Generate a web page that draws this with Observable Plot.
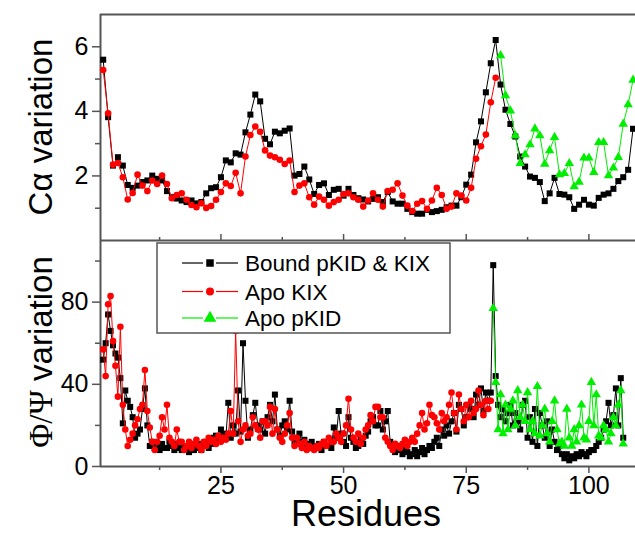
<!DOCTYPE html>
<html>
<head>
<meta charset="utf-8">
<script src="https://cdn.jsdelivr.net/npm/d3@7"></script>
<script src="https://cdn.jsdelivr.net/npm/@observablehq/plot@0.6"></script>
<style>
html,body{margin:0;padding:0;background:#fff;overflow:hidden;}
#wrap{position:relative;width:635px;height:534px;font-family:"Liberation Sans",Arial,sans-serif;}
#wrap > svg{display:block;position:absolute;left:0;}
</style>
</head>
<body>
<div id="wrap"></div>
<script>
// ---------- DATA ----------
const seriesNames = ["Bound pKID & KIX", "Apo KIX", "Apo pKID"];

// Top panel: C-alpha variation, one value per residue
const topBoundStart = 1;
const topBound = [5.6,3.82,2.32,2.58,2.32,1.72,1.63,1.70,1.81,1.86,
  2.01,1.91,1.86,1.53,1.34,1.30,1.24,1.19,1.24,1.15,
  1.19,1.46,1.62,1.65,1.96,2.48,2.42,2.70,2.66,3.35,
  3.90,4.52,4.31,3.15,2.98,3.37,3.32,3.40,3.47,2.01,
  2.06,2.29,1.89,1.44,1.72,1.77,1.41,1.57,1.60,1.39,
  1.60,1.41,1.31,1.27,1.21,1.29,1.34,1.19,1.50,1.21,
  1.14,1.14,0.98,0.88,0.83,0.83,0.95,0.88,0.91,0.95,
  1.03,1.08,1.08,1.34,1.73,2.04,3.04,3.69,4.59,5.49,
  6.21,4.83,4.05,3.61,3.22,2.60,2.29,1.98,1.94,1.81,
  1.22,1.46,1.94,1.44,1.42,1.34,0.98,1.11,1.26,1.11,
  1.08,1.32,1.42,1.46,1.60,1.84,1.96,2.19,3.46];
const topApoKIXStart = 1;
const topApoKIX = [5.28,3.94,2.35,2.40,1.96,1.27,1.47,2.04,1.70,1.53,
  1.86,1.75,2.01,1.75,1.31,1.41,1.46,1.26,1.10,1.03,
  1.15,1.01,1.07,1.26,1.50,1.77,1.69,2.10,1.46,2.60,
  3.27,3.53,3.37,2.79,2.63,2.58,2.50,2.37,2.48,1.50,
  1.70,1.77,1.34,1.11,1.36,1.26,1.08,1.19,1.26,1.44,
  1.46,1.34,1.26,1.05,1.24,1.46,1.26,1.05,1.53,1.57,
  1.77,1.39,1.08,0.91,1.14,1.22,0.98,1.24,1.63,1.41,
  0.98,1.05,1.46,1.39,1.24,1.63,2.53,2.92,3.28,4.28,
  5.04];
const topApoPKIDStart = 82;
const topApoPKID = [5.73,4.49,4.02,3.25,2.39,2.66,2.97,3.46,3.25,2.37,
  2.79,3.20,2.04,2.08,2.39,1.67,1.81,2.56,2.56,2.11,
  3.04,3.04,2.01,2.25,2.58,3.61,4.21,4.97];

// Bottom panel: Phi/Psi variation, two values (Phi, Psi) per residue
const botStep = 0.5;
const botBoundStart = 1;
const botBound = [52,60, 74,66, 59,55, 53,43, 21,37, 32,29, 24,14, 16,18, 28,38, 20,10, 12,9,
  10,8, 11,9, 9,12, 10,8, 11,9, 8,10, 9,7, 10,8, 9,11, 8,10, 12,9, 11,14, 15,13, 18,16,
  14,31, 14,20, 16,37, 17,60, 32,14, 18,25, 31,20, 18,22, 16,24, 30,22, 35,18, 15,20, 22,18, 32,17,
  12,14, 16,12, 13,11, 10,12, 9,10, 11,8, 12,10, 10,9, 19,14, 27,16, 12,10, 24,14, 12,9, 10,13, 11,15, 17,22, 24,20, 20,27, 18,22, 27,12,
  10,7, 8,10, 6,8, 7,5, 6,8, 5,7, 9,6, 8,10, 9,12, 14,10, 18,15, 20,16, 22,26, 17,30, 28,20, 24,30, 28,24, 35,30, 38,27, 36,32,
  36,98, 44,30, 24,28, 22,26, 30,20, 26,22, 18,30, 32,14, 24,12, 28,10, 26,20, 14,22, 10,18, 12,8, 10,6,
  4,6, 3,5, 4,6, 5,7, 6,5, 7,8, 8,10, 12,14, 18,22, 31,20, 25,38, 20,43,
  14];
const botApoKIXStart = 1;
const botApoKIX = [57,44, 79,83, 61,49, 34,68, 30,18, 10,13, 16,20, 23,28, 30,47, 27,19,
  12,8, 12,15, 24,18, 30,14, 12,10, 18,12, 12,8, 10,12, 9,11, 13,10,
  8,12, 10,14, 12,13, 11,15, 12,14, 13,16, 27,16, 66,22, 12,18, 20,15,
  16,24, 20,18, 14,22, 22,20, 29,16, 28,18, 14,12, 16,20, 26,14, 10,14,
  11,9, 12,8, 10,9, 8,10, 9,11, 12,10, 14,12, 12,16, 14,12, 16,20,
  33,18, 14,12, 16,11, 14,18, 20,25, 22,29, 29,24, 24,14, 12,10, 8,11,
  10,9, 11,13, 10,12, 14,12, 16,20, 26,18, 21,30, 25,24, 21,18, 26,22,
  24,30, 36,26, 18,35, 28,22, 30,24, 32,26, 28,37, 30,25, 32,28, 32];
const botApoPKIDStart = 80.5;
const botApoPKID = [77,41, 18,35, 16,30, 18,28, 32,20, 37,24, 30,22, 36,18, 22,16, 39,15,
  20,28, 16,12, 22,32, 18,11, 12,10, 28,14, 10,18, 12,20, 30,14, 13,22,
  41,20, 35,15, 14,20, 18,12, 16,24, 20,30, 37,11];

// Axes
const xDomain = [0.45, 109.5];
const xMajor = [25, 50, 75, 100];
const xMinor = [12.5, 37.5, 62.5, 87.5];
const topYDomain = [0, 7];
const topYMajor = [2, 4, 6];
const topYMinor = [1, 3, 5];
const botYDomain = [0, 110];
const botYMajor = [0, 40, 80];
const botYMinor = [20, 60, 100];

// ---------- BUILD ----------
const FONT = '"Liberation Sans", Arial, sans-serif';
const AXIS = "#555";
const COLORS = ["#000000", "#ff0000", "#00ee00"];
const toRows = (vals, start, step) => vals.map((v, i) => ({x: start + i * step, y: v}));
const intFmt = d3.format("d");

const tB = toRows(topBound, topBoundStart, 1);
const tK = toRows(topApoKIX, topApoKIXStart, 1);
const tP = toRows(topApoPKID, topApoPKIDStart, 1);
const bB = toRows(botBound, botBoundStart, botStep);
const bK = toRows(botApoKIX, botApoKIXStart, botStep);
const bP = toRows(botApoPKID, botApoPKIDStart, botStep);

function seriesMarks(b, k, p) {
  return [
    Plot.line(b, {x: "x", y: "y", stroke: COLORS[0], strokeWidth: 1}),
    Plot.dot(b, {x: "x", y: "y", symbol: "square", r: 3.4, fill: COLORS[0]}),
    Plot.line(k, {x: "x", y: "y", stroke: COLORS[1], strokeWidth: 1}),
    Plot.dot(k, {x: "x", y: "y", symbol: "circle", r: 3.3, fill: COLORS[1]}),
    Plot.line(p, {x: "x", y: "y", stroke: COLORS[2], strokeWidth: 1}),
    Plot.dot(p, {x: "x", y: "y", symbol: "triangle", r: 3.5, fill: COLORS[2]})
  ];
}

const topSvg = Plot.plot({
  width: 635, height: 240,
  marginTop: 14, marginBottom: 0, marginLeft: 100, marginRight: 0,
  style: {fontFamily: FONT, overflow: "visible", color: "black", background: "transparent"},
  x: {domain: xDomain, axis: null},
  y: {domain: topYDomain},
  marks: [
    Plot.axisY({ticks: topYMajor, tickFormat: intFmt, tickSize: 8, tickPadding: 4, fontSize: 25, label: null, stroke: AXIS, strokeWidth: 1.5}),
    Plot.axisY({ticks: topYMinor, tickSize: 5, tickFormat: () => "", label: null, stroke: AXIS, strokeWidth: 1.5}),
    Plot.ruleX([xDomain[0]], {stroke: AXIS, strokeWidth: 2}),
    Plot.ruleY([topYDomain[1]], {stroke: AXIS, strokeWidth: 2}),
    ...seriesMarks(tB, tK, tP)
  ]
});
topSvg.style.top = "0px";

const botSvg = Plot.plot({
  width: 635, height: 294,
  marginTop: 0, marginBottom: 68, marginLeft: 100, marginRight: 0,
  style: {fontFamily: FONT, overflow: "visible", color: "black", background: "transparent"},
  x: {domain: xDomain},
  y: {domain: botYDomain},
  marks: [
    Plot.axisY({ticks: botYMajor, tickFormat: intFmt, tickSize: 8, tickPadding: 4, fontSize: 25, label: null, stroke: AXIS, strokeWidth: 1.5}),
    Plot.axisY({ticks: botYMinor, tickSize: 5, tickFormat: () => "", label: null, stroke: AXIS, strokeWidth: 1.5}),
    Plot.axisX({anchor: "bottom", ticks: xMajor, tickFormat: intFmt, tickSize: 7, tickPadding: 3, fontSize: 25, label: null, stroke: AXIS, strokeWidth: 1.5}),
    Plot.axisX({anchor: "bottom", ticks: xMinor, tickSize: 4, tickFormat: () => "", label: null, stroke: AXIS, strokeWidth: 1.5}),
    Plot.axisX({anchor: "top", ticks: xMajor, tickSize: 7, tickFormat: () => "", label: null, stroke: AXIS, strokeWidth: 1.5}),
    Plot.axisX({anchor: "top", ticks: xMinor, tickSize: 4, tickFormat: () => "", label: null, stroke: AXIS, strokeWidth: 1.5}),
    Plot.ruleX([xDomain[0]], {stroke: AXIS, strokeWidth: 2}),
    Plot.ruleY([botYDomain[0]], {stroke: AXIS, strokeWidth: 2}),
    Plot.ruleY([botYDomain[1]], {stroke: AXIS, strokeWidth: 2}),
    ...seriesMarks(bB, bK, bP)
  ]
});
botSvg.style.top = "240px";

const wrap = document.getElementById("wrap");
wrap.appendChild(topSvg);
wrap.appendChild(botSvg);

// Axis titles
d3.select(topSvg).append("text")
  .attr("transform", "translate(52,127) rotate(-90)")
  .attr("text-anchor", "middle")
  .style("font-family", FONT).style("font-size", "33px").attr("fill", "black")
  .text("Cα variation");

const yt = d3.select(botSvg).append("text")
  .attr("transform", "translate(52,112) rotate(-90)")
  .attr("text-anchor", "middle")
  .style("font-family", FONT).style("font-size", "33px").attr("fill", "black");
yt.append("tspan").style("font-family", '"Liberation Serif", "Times New Roman", serif').text("Φ/Ψ");
yt.append("tspan").text(" variation");

d3.select(botSvg).append("text")
  .attr("x", 366).attr("y", 286)
  .attr("text-anchor", "middle")
  .style("font-family", FONT).style("font-size", "36px").attr("fill", "black")
  .text("Residues");

// Legend
const leg = d3.select(wrap).append("svg")
  .attr("width", 296).attr("height", 93)
  .style("position", "absolute").style("left", "156px").style("top", "242px");
leg.append("rect").attr("x", 1).attr("y", 1).attr("width", 293).attr("height", 90)
  .attr("fill", "white").attr("stroke", AXIS).attr("stroke-width", 1.5);
const legSymbols = [d3.symbolSquare, d3.symbolCircle, d3.symbolTriangle];
const legSizes = [56, 50, 70];
const rowY = [21, 49.5, 76];
seriesNames.forEach((name, i) => {
  const g = leg.append("g").attr("transform", `translate(0,${rowY[i]})`);
  g.append("line").attr("x1", 26).attr("x2", 47).attr("stroke", COLORS[i]).attr("stroke-width", 1.2);
  g.append("line").attr("x1", 60).attr("x2", 82).attr("stroke", COLORS[i]).attr("stroke-width", 1.2);
  g.append("path").attr("d", d3.symbol(legSymbols[i], legSizes[i])()).attr("transform", "translate(54,0)").attr("fill", COLORS[i]);
  g.append("text").attr("x", 89).attr("y", 0).attr("dy", "0.36em")
    .style("font-family", FONT).style("font-size", "22.5px").attr("fill", "black").text(name);
});
</script>
</body>
</html>
